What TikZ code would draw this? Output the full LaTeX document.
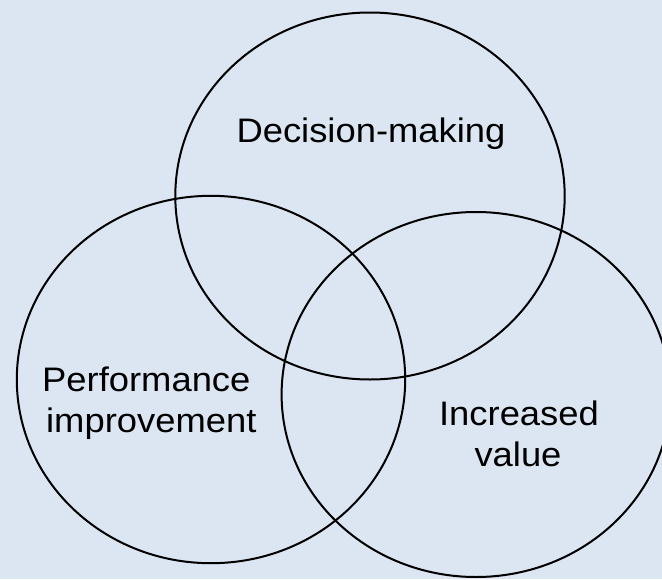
\documentclass[tikz,border=0pt]{standalone}
\usepackage{fontspec}
\setmainfont{Liberation Sans}[FakeStretch=1.07]
\definecolor{bgblue}{RGB}{220,230,242}
\begin{document}
\begin{tikzpicture}[x=1pt,y=-1pt,
  ring/.style={draw=black,line width=2pt},
  lbl/.style={anchor=base,inner sep=0pt,font=\fontsize{34}{41}\selectfont,text=black}]
\fill[bgblue] (0,0) rectangle (662,579);
\useasboundingbox (0,0) rectangle (662,579);
\begin{scope}
\clip (0,0) rectangle (662,579);
\coordinate (ctop) at (370,196);
\coordinate (cleft) at (211,379.5);
\coordinate (cright) at (476,394.5);
\draw[ring] (ctop) ellipse [x radius=194.7, y radius=183.5];
\draw[ring] (cleft) ellipse [x radius=194.2, y radius=183.7];
\draw[ring] (cright) ellipse [x radius=194.4, y radius=182.5];
\end{scope}
\node[lbl] (dm) at (371,142) {Decision-making};
\node[lbl] (pi1) at (146.3,391.5) {Performance};
\node[lbl] (pi2) at (151.3,432.5) {improvement};
\node[lbl] (iv1) at (519,425) {Increased};
\node[lbl] (iv2) at (518,466) {value};
\end{tikzpicture}
\end{document}
